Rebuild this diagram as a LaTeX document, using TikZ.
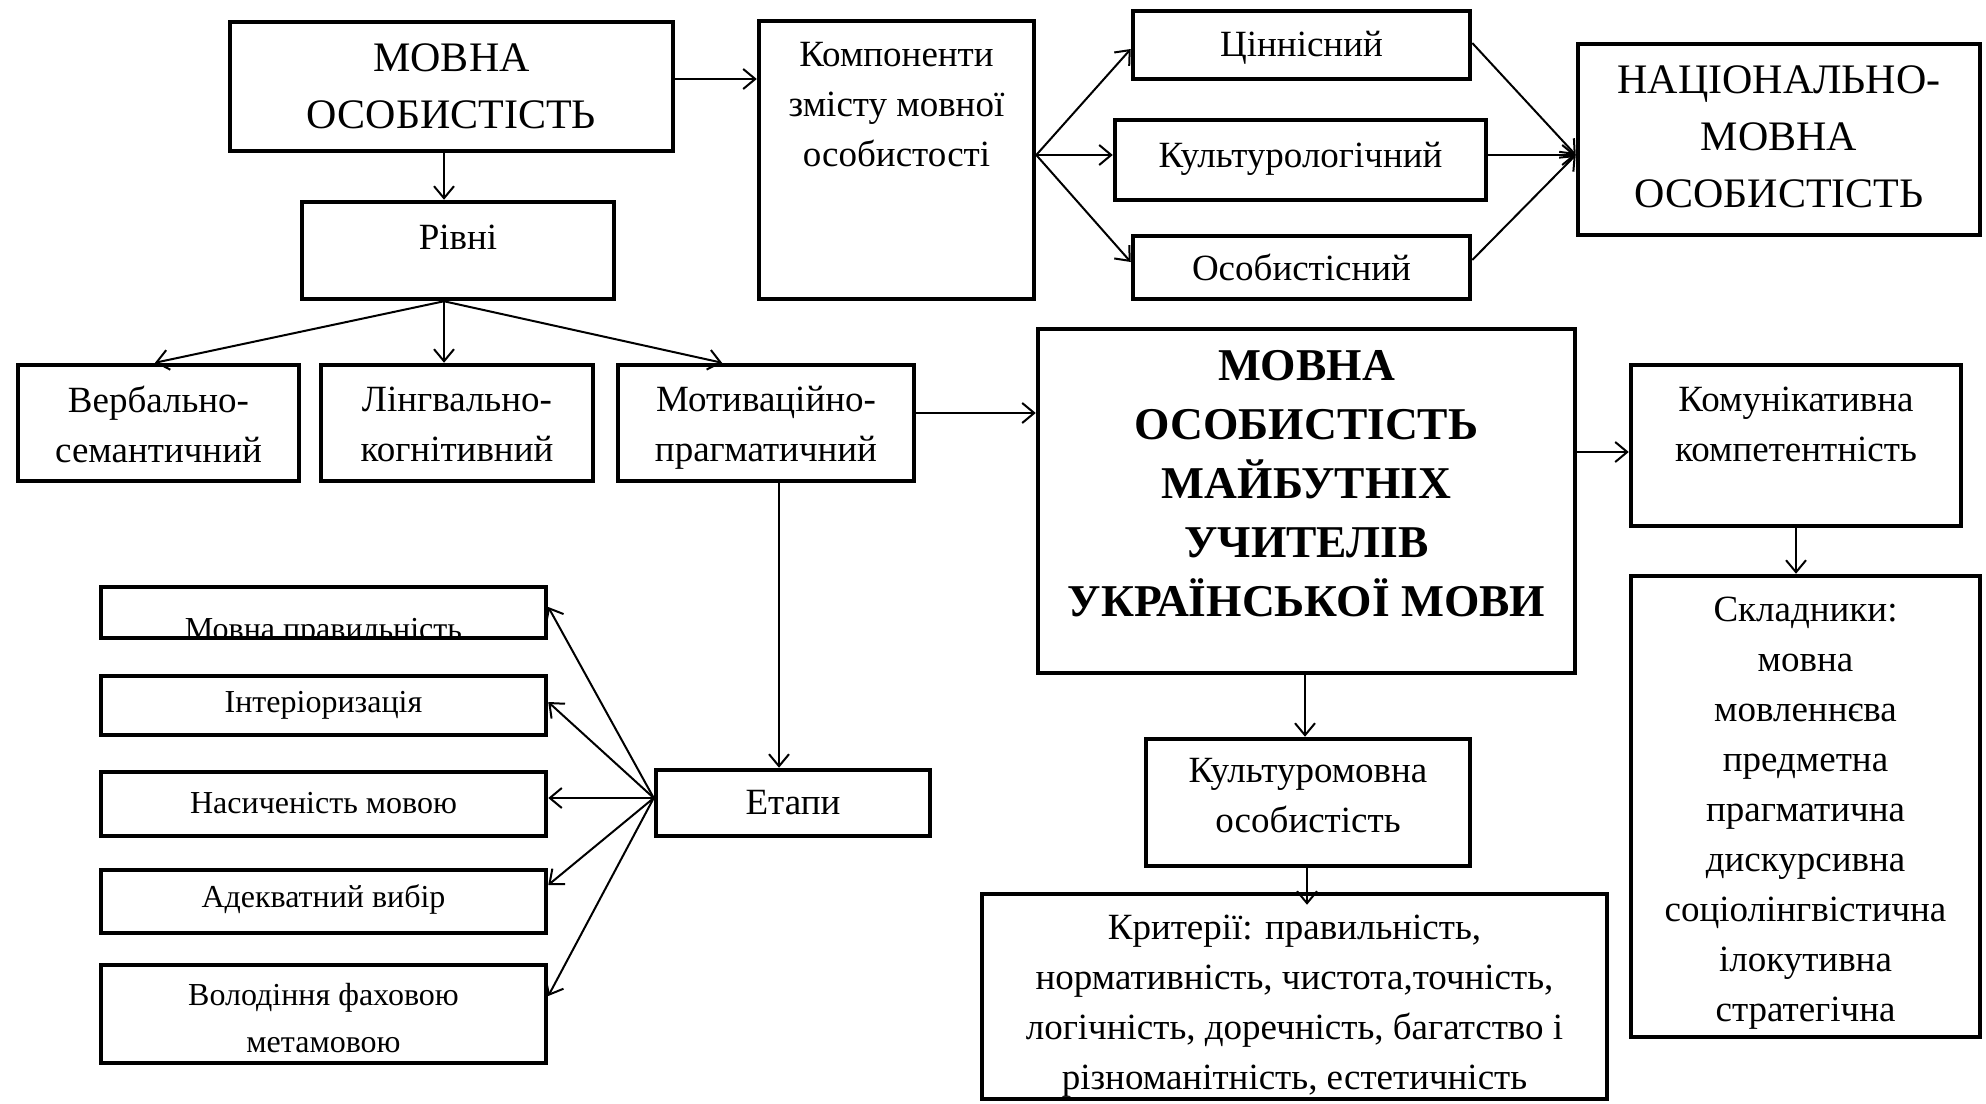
\documentclass[tikz,border=0pt]{standalone}
\usepackage{fontspec}
\setmainfont{Liberation Serif}
\usetikzlibrary{arrows.meta}
\begin{document}
\begin{tikzpicture}[x=1pt,y=-1pt,
  box/.style={draw, line width=4.5pt, inner sep=0pt},
  arr/.style={line width=2pt, -{Straight Barb[length=12pt,width=20pt,line width=2pt]}},
  txt/.style={inner sep=0pt, align=center, font=\fontsize{37}{50}\selectfont},
  tbig/.style={inner sep=0pt, align=center, font=\fontsize{42}{57}\selectfont},
  tbold/.style={inner sep=0pt, align=center, font=\fontsize{45.5}{59}\selectfont\bfseries},
  tsmall/.style={inner sep=0pt, align=center, font=\fontsize{32}{43}\selectfont}]
\useasboundingbox (0,0) rectangle (1986,1103);

% boxes
\node[box, minimum width=443pt, minimum height=129pt] (A) at (451.5,86.5) {};
\node[box, minimum width=275pt, minimum height=278pt] (B) at (896.5,160) {};
\node[box, minimum width=312pt, minimum height=97pt] (R) at (458,250.5) {};
\node[box, minimum width=337pt, minimum height=68pt] (C1) at (1301.5,45) {};
\node[box, minimum width=371pt, minimum height=80pt] (C2) at (1300.5,160) {};
\node[box, minimum width=337pt, minimum height=63pt] (C3) at (1301.5,267.5) {};
\node[box, minimum width=402pt, minimum height=191pt] (N) at (1779,139.5) {};
\node[box, minimum width=281pt, minimum height=116pt] (V1) at (158.5,423) {};
\node[box, minimum width=272pt, minimum height=116pt] (V2) at (457,423) {};
\node[box, minimum width=296pt, minimum height=116pt] (V3) at (766,423) {};
\node[box, minimum width=537pt, minimum height=344pt] (M) at (1306.5,501) {};
\node[box, minimum width=330pt, minimum height=161pt] (K) at (1796,445.5) {};
\node[box, minimum width=349pt, minimum height=461pt] (S) at (1805.5,806.5) {};
\node[box, minimum width=324pt, minimum height=127pt] (KO) at (1308,802.5) {};
\node[box, minimum width=625pt, minimum height=205pt] (KR) at (1294.5,996.5) {};
\node[box, minimum width=274pt, minimum height=66pt] (E) at (793,803) {};
\node[box, minimum width=445pt, minimum height=51pt] (L1) at (323.5,612.5) {};
\node[box, minimum width=445pt, minimum height=59pt] (L2) at (323.5,705.5) {};
\node[box, minimum width=445pt, minimum height=64pt] (L3) at (323.5,804) {};
\node[box, minimum width=445pt, minimum height=63pt] (L4) at (323.5,901.5) {};
\node[box, minimum width=445pt, minimum height=98pt] (L5) at (323.5,1014) {};

% texts
\node[tbig] (At) at (451.5,86) {МОВНА\\ОСОБИСТІСТЬ};
\node[txt] (Bt) at (896.5,105) {Компоненти\\змісту мовної\\особистості};
\node[txt] (Rt) at (458,237) {Рівні};
\node[txt] (C1t) at (1301.5,48) {Ціннісний};
\node[txt] (C2t) at (1300.5,159) {Культурологічний};
\node[txt] (C3t) at (1301.5,267) {Особистісний};
\node[tbig] (Nt) at (1779,137) {НАЦІОНАЛЬНО-\\МОВНА\\ОСОБИСТІСТЬ};
\node[txt] (V1t) at (158.5,424) {Вербально-\\семантичний};
\node[txt] (V2t) at (457,424) {Лінгвально-\\когнітивний};
\node[txt] (V3t) at (766,428) {Мотиваційно-\\прагматичний};
\node[tbold] (Mt) at (1306.5,484) {МОВНА\\ОСОБИСТІСТЬ\\МАЙБУТНІХ\\УЧИТЕЛІВ\\УКРАЇНСЬКОЇ МОВИ};
\node[txt] (Kt) at (1796,424) {Комунікативна\\компетентність};
\node[txt] (St) at (1805.5,813) {Складники:\\мовна\\мовленнєва\\предметна\\прагматична\\дискурсивна\\соціолінгвістична\\ілокутивна\\стратегічна};
\node[txt] (KOt) at (1308,796) {Культуромовна\\особистість};
\node[txt] (KRt) at (1294.5,1006) {Критерії: правильність,\\нормативність, чистота,точність,\\логічність, доречність, багатство і\\різноманітність, естетичність};
\node[txt] (Et) at (793,803) {Етапи};
\begin{scope}
\clip ([shift={(2.25pt,2.25pt)}]L1.south west) rectangle ([shift={(-2.25pt,-2.25pt)}]L1.north east);
\node[tsmall, anchor=base] (L1t) at (323.5,639) {Мовна правильність};
\end{scope}
\node[tsmall] (L2t) at (323.5,705) {Інтеріоризація};
\node[tsmall] (L3t) at (323.5,803) {Насиченість мовою};
\node[tsmall] (L4t) at (323.5,899) {Адекватний вибір};
\node[tsmall, font=\fontsize{32}{47}\selectfont] (L5t) at (323.5,1018.5) {Володіння фаховою\\метамовою};

% connectors
\draw[arr] ([yshift=7.5pt]A.east) -- ([yshift=81pt]B.west);
\draw[arr] ([xshift=-7.5pt]A.south) -- ([xshift=-14pt]R.north);
\draw[arr] ([yshift=5pt]B.east) -- ([yshift=-4pt]C1.west);
\draw[arr] ([yshift=5pt]B.east) -- ([yshift=5pt]C2.west);
\draw[arr] ([yshift=5pt]B.east) -- ([yshift=5.5pt]C3.west);
\draw[arr] ([yshift=2pt]C1.east) -- ([yshift=-15.5pt]N.west);
\draw[arr] ([yshift=5pt]C2.east) -- ([yshift=-15.5pt]N.west);
\draw[arr] ([yshift=7.5pt]C3.east) -- ([yshift=-15.5pt]N.west);
\draw[arr] ([xshift=-14pt]R.south) -- ([xshift=-3.5pt]V1.north);
\draw[arr] ([xshift=-14pt]R.south) -- ([xshift=-13pt]V2.north);
\draw[arr] ([xshift=-14pt]R.south) -- ([xshift=-44pt]V3.north);
\draw[arr] ([yshift=10pt]V3.east) -- ([yshift=88pt]M.west);
\draw[arr] ([xshift=13pt]V3.south) -- ([xshift=-14pt]E.north);
\draw[arr] ([yshift=5pt]E.west) -- ([yshift=5.5pt]L1.east);
\draw[arr] ([yshift=5pt]E.west) -- ([yshift=3.5pt]L2.east);
\draw[arr] ([yshift=5pt]E.west) -- ([yshift=6pt]L3.east);
\draw[arr] ([yshift=5pt]E.west) -- ([yshift=16.5pt]L4.east);
\draw[arr] ([yshift=5pt]E.west) -- ([yshift=18pt]L5.east);
\draw[arr] ([xshift=-1.5pt]M.south) -- ([xshift=-3pt]KO.north);
\draw[arr] ([yshift=49pt]M.east) -- ([yshift=-6.5pt]K.west);
\draw[arr] (K.south) -- ([xshift=-9.5pt]S.north);
\draw[arr] ([xshift=-1pt]KO.south) -- ([xshift=12.5pt,yshift=-13pt]KR.north);
\end{tikzpicture}
\end{document}
